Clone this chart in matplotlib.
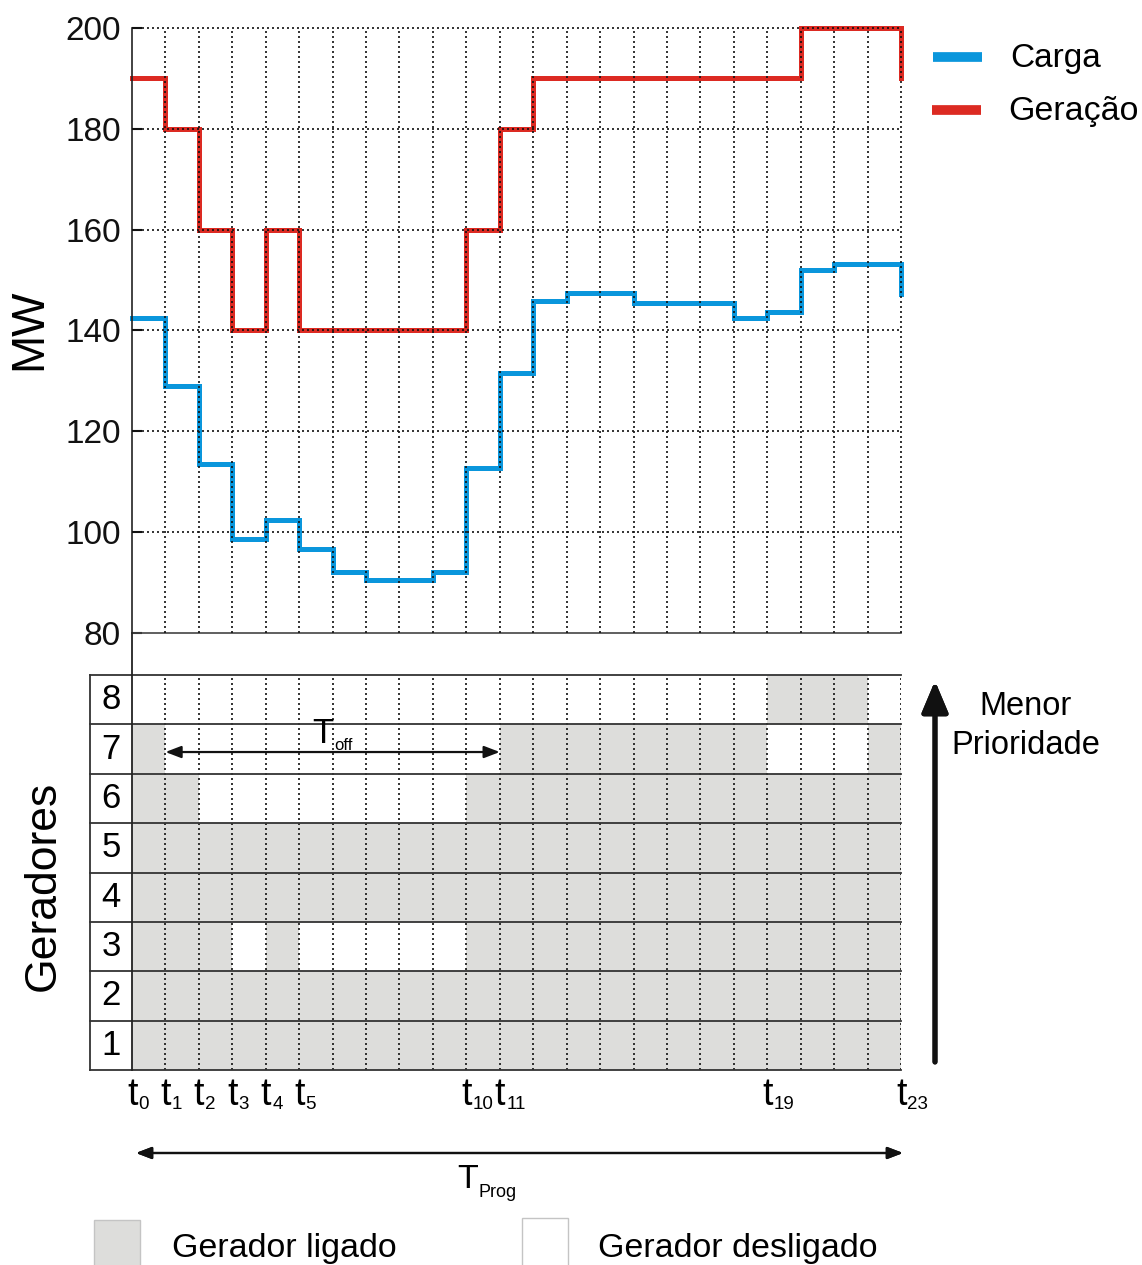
import matplotlib
matplotlib.use("Agg")
import matplotlib.pyplot as plt
import numpy as np
from matplotlib.patches import Rectangle
from matplotlib.lines import Line2D

plt.rcParams['font.family'] = ['Liberation Sans', 'DejaVu Sans']

# valores (MW por intervalo t0..t22, último ponto em t23)
carga = [142.4, 129.0, 113.5, 98.6, 102.5, 96.7, 92.0, 90.5, 90.5, 92.0, 112.8, 131.5,
         145.9, 147.4, 147.4, 145.4, 145.4, 145.4, 142.5, 143.7, 152.0, 153.2, 153.2, 147.2]
geracao = [190, 180, 160, 140, 160, 140, 140, 140, 140, 140, 160, 180,
           190, 190, 190, 190, 190, 190, 190, 190, 200, 200, 200, 190]
mw_ticks = [80, 100, 120, 140, 160, 180, 200]

# estado de cada gerador por intervalo (1 = ligado, 0 = desligado)
geradores = [1, 2, 3, 4, 5, 6, 7, 8]
estado = [
    "11111111111111111111111",  # 1
    "11111111111111111111111",  # 2
    "11101000001111111111111",  # 3
    "11111111111111111111111",  # 4
    "11111111111111111111111",  # 5
    "11000000001111111111111",  # 6
    "10000000000111111110001",  # 7
    "00000000000000000001110",  # 8
]
t_marcados = [0, 1, 2, 3, 4, 5, 10, 11, 19, 23]

azul = '#0a96dc'
vermelho = '#dc2a22'
cinza = '#dddddb'
W, H = 1142, 1265


def fx(x):
    return x / W


def fy(y):
    return 1 - y / H


fig = plt.figure(figsize=(W / 100, H / 100), dpi=100)

# ---- grafico de cima ----
ax = fig.add_axes([fx(132), fy(633), 769 / W, 605 / H])
ax.set_xlim(0, 23)
ax.set_ylim(80, 200)
x = np.arange(len(carga))
ax.plot(x, geracao, drawstyle='steps-post', color=vermelho, lw=3.6, clip_on=False,
        zorder=2, solid_joinstyle='miter')
ax.plot(x, carga, drawstyle='steps-post', color=azul, lw=3.6, clip_on=False,
        zorder=2, solid_joinstyle='miter')
dot = (0, (1.2, 1.8))
for v in range(1, 24):
    ax.plot([v, v], [80, 200], color='#111', lw=1.2, ls=dot, zorder=3, clip_on=False)
for v in mw_ticks[1:]:
    ax.plot([0, 23], [v, v], color='#111', lw=1.2, ls=dot, zorder=3, clip_on=False)
ax.spines['top'].set_visible(False)
ax.spines['right'].set_visible(False)
ax.spines['left'].set_color('#222')
ax.spines['bottom'].set_color('#444')
ax.spines['left'].set_linewidth(1.2)
ax.spines['bottom'].set_linewidth(1.2)
ax.set_xticks([])
ax.set_yticks(mw_ticks)
ax.tick_params(axis='y', direction='in', length=7, width=1.5, labelsize=24, pad=8,
               colors='#111')
fig.text(fx(29), fy(329), 'MW', rotation=90, fontsize=33, ha='center', va='center')

# legenda de cima
fig.add_artist(Line2D([fx(933), fx(982)], [fy(57), fy(57)], color=azul, lw=7,
                      solid_capstyle='butt'))
fig.add_artist(Line2D([fx(932), fx(981)], [fy(110), fy(110)], color=vermelho, lw=7,
                      solid_capstyle='butt'))
fig.text(fx(1010), fy(67), 'Carga', fontsize=24, va='baseline')
fig.text(fx(1008), fy(120), 'Geração', fontsize=24.5, va='baseline')

# ---- tabela de geradores ----
ax2 = fig.add_axes([fx(90), fy(1070), 811 / W, 395 / H])
x0 = -42 / (769 / 23)
ax2.set_xlim(x0, 23)
ax2.set_ylim(0, 8)
for g, s in zip(geradores, estado):
    lefts = [i for i, c in enumerate(s) if c == '1']
    ax2.barh([g - 0.5] * len(lefts), [1] * len(lefts), left=lefts, height=1,
             color=cinza, edgecolor='none', zorder=1)
    ax2.text(x0 / 2, g - 0.5, str(g), ha='center', va='center', fontsize=25)
for v in range(1, 24):
    ax2.plot([v, v], [0, 8], color='#111', lw=1.2, ls=dot, zorder=3)
for y in range(0, 9):
    ax2.plot([x0, 23], [y, y], color='#333', lw=1.3, zorder=4, clip_on=False)
ax2.plot([x0, x0], [0, 8], color='#333', lw=1.3, zorder=4, clip_on=False)
ax2.plot([0, 0], [0, 8 + 42 / 395 * 8], color='#222', lw=1.3, zorder=4, clip_on=False)
for sp in ax2.spines.values():
    sp.set_visible(False)
ax2.set_xticks([])
ax2.set_yticks([])

for i in t_marcados:
    ax2.annotate('t', xy=(i, 0), xycoords=('data', 'axes fraction'), xytext=(-5, -35),
                 textcoords='offset pixels', fontsize=27, ha='left', va='baseline')
    ax2.annotate(str(i), xy=(i, 0), xycoords=('data', 'axes fraction'), xytext=(6.5, -39),
                 textcoords='offset pixels', fontsize=13.5, ha='left', va='baseline')

# T_off
ax2.annotate('', xy=(1, 6.44), xytext=(11, 6.44),
             arrowprops=dict(arrowstyle='<|-|>,head_length=0.94,head_width=0.36',
                             mutation_scale=10, lw=1.6, color='#111', shrinkA=0, shrinkB=0),
             zorder=5)
fig.text(fx(312), fy(743), 'T', fontsize=25, va='baseline')
fig.text(fx(334), fy(750), 'off', fontsize=12, va='baseline')

# T_Prog
fig.add_artist(plt.annotate('', xy=(fx(903), fy(1153)), xytext=(fx(136), fy(1153)),
                            xycoords='figure fraction', textcoords='figure fraction',
                            arrowprops=dict(arrowstyle='<|-|>,head_length=0.94,head_width=0.36',
                                            mutation_scale=10, lw=1.6, color='#111',
                                            shrinkA=0, shrinkB=0)))
fig.text(fx(457), fy(1188), 'T', fontsize=24.5, va='baseline')
fig.text(fx(478), fy(1197), 'Prog', fontsize=13, va='baseline')

# seta de prioridade
fig.add_artist(plt.annotate('', xy=(fx(935), fy(681)), xytext=(fx(935), fy(1062)),
                            xycoords='figure fraction', textcoords='figure fraction',
                            arrowprops=dict(arrowstyle='-|>,head_length=1.9,head_width=0.8',
                                            mutation_scale=10, lw=3.6, color='#111',
                                            shrinkA=0, shrinkB=0)))
fig.text(fx(1026), fy(715), 'Menor', fontsize=23.5, ha='center', va='baseline')
fig.text(fx(1026), fy(754), 'Prioridade', fontsize=23.5, ha='center', va='baseline')
fig.text(fx(43), fy(886), 'Geradores', rotation=90, fontsize=32, ha='center', va='center')

# legenda de baixo
fig.add_artist(Rectangle((fx(94), fy(1275)), 46 / W, 55 / H, transform=fig.transFigure,
                         fc=cinza, ec='#c4c4c4', lw=1))
fig.add_artist(Rectangle((fx(522), fy(1275)), 46 / W, 57 / H, transform=fig.transFigure,
                         fc='white', ec='#c4c4c4', lw=1))
fig.text(fx(172), fy(1257), 'Gerador ligado', fontsize=24.5, va='baseline')
fig.text(fx(598), fy(1257), 'Gerador desligado', fontsize=24.5, va='baseline')

fig.savefig('out.png', dpi=100)
